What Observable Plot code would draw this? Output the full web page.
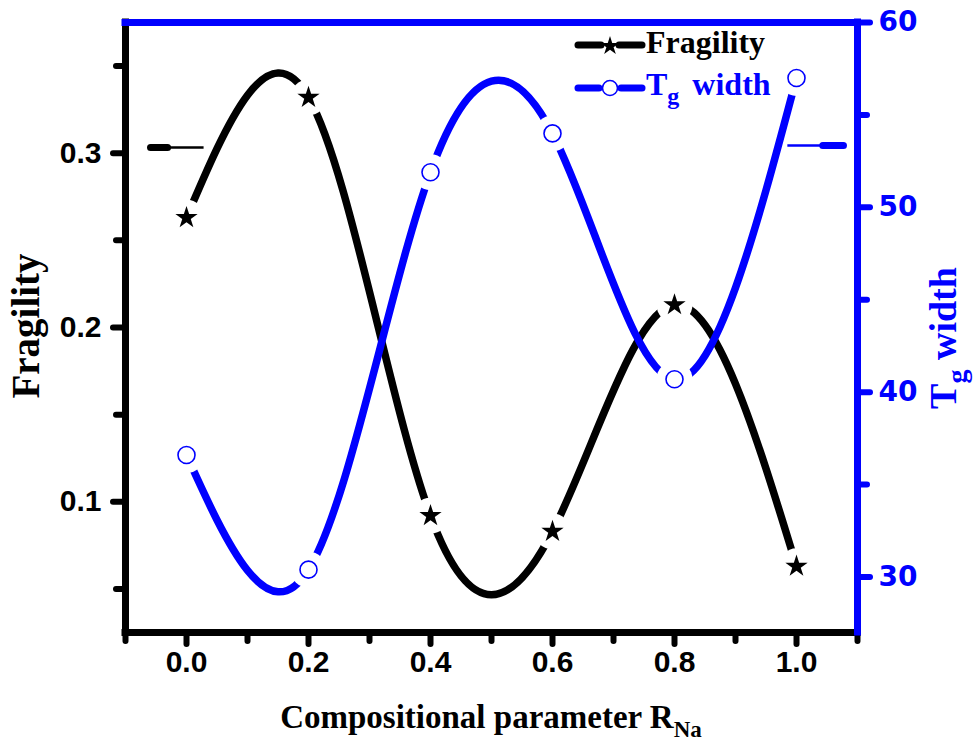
<!DOCTYPE html>
<html><head><meta charset="utf-8">
<script src="https://cdn.jsdelivr.net/npm/d3@7"></script>
<script src="https://cdn.jsdelivr.net/npm/@observablehq/plot@0.6"></script>
<style>
body{margin:0;background:#fff}
svg{display:block}
</style></head><body><div id="chart"></div>
<script>
// ---- data ----
const composition = [0, 0.2, 0.4, 0.6, 0.8, 1.0];
const fragility   = [0.263, 0.332, 0.092, 0.083, 0.213, 0.063];
const tgWidth     = [36.6, 30.4, 51.9, 54.0, 40.7, 57.0];

const xTicks      = [0, 0.2, 0.4, 0.6, 0.8, 1.0];
const xMinorTicks = [-0.1, 0.1, 0.3, 0.5, 0.7, 0.9, 1.1];
const yTicks      = [0.1, 0.2, 0.3];
const yMinorTicks = [0.05, 0.15, 0.25, 0.35];
const tgTicks     = [30, 40, 50, 60];
const tgMinorTicks= [35, 45, 55];

const xDomain = [-0.1, 1.1];
const fragDomain = [0.025, 0.375];
const tgDomain = [27, 60];

// arrows pointing to the axis each curve belongs to (data units)
const fragArrow = {x1: 0.028, x2: -0.059, head: -0.031, y: 0.3033};
const tgArrow   = {x1: 0.985, x2: 1.077, head: 1.043, y: 53.35};

const tgToY = v => fragDomain[0] + (v - tgDomain[0]) / (tgDomain[1] - tgDomain[0]) * (fragDomain[1] - fragDomain[0]);
const yToTg = y => tgDomain[0] + (y - fragDomain[0]) / (fragDomain[1] - fragDomain[0]) * (tgDomain[1] - tgDomain[0]);

const fragData = composition.map((x, i) => ({x, y: fragility[i]}));
const tgData = composition.map((x, i) => ({x, y: tgToY(tgWidth[i]), tg: tgWidth[i]}));

const BLUE = "#0000ff";
const tickFont = {fontSize: 30, fontWeight: "bold", fontFamily: "Liberation Sans, Arial, sans-serif"};

const svg = Plot.plot({
  width: 977, height: 744,
  marginLeft: 125, marginRight: 120, marginTop: 22, marginBottom: 112,
  x: {domain: xDomain, axis: null},
  y: {domain: fragDomain, axis: null},
  marks: [
    // left & bottom frame (black)
    Plot.ruleX([xDomain[0]], {stroke: "black", strokeWidth: 7, strokeLinecap: "square"}),
    Plot.ruleY([fragDomain[0]], {stroke: "black", strokeWidth: 7, strokeLinecap: "square"}),
    // x axis
    Plot.axisX({ticks: xMinorTicks, label: null, tickSize: 9, strokeWidth: 6, strokeLinecap: "round", tickFormat: () => ""}),
    Plot.axisX({ticks: xTicks, label: null, tickSize: 12, tickPadding: 6, strokeWidth: 6, strokeLinecap: "round",
      tickFormat: d3.format(".1f"), ...tickFont}),
    // left y axis
    Plot.axisY({ticks: yMinorTicks, label: null, tickSize: 9, strokeWidth: 6, strokeLinecap: "round", tickFormat: () => ""}),
    Plot.axisY({ticks: yTicks, label: null, tickSize: 12, tickPadding: 12, strokeWidth: 6, strokeLinecap: "round",
      tickFormat: d3.format(".1f"), ...tickFont}),
    // right y axis (Tg width)
    Plot.axisY({anchor: "right", label: null, ticks: tgMinorTicks.map(tgToY), tickSize: 9, strokeWidth: 6,
      strokeLinecap: "round", stroke: BLUE, tickFormat: () => ""}),
    Plot.axisY({anchor: "right", label: null, ticks: tgTicks.map(tgToY), tickSize: 12, tickPadding: 9, strokeWidth: 6,
      strokeLinecap: "round", stroke: BLUE, fill: BLUE, tickFormat: d => Math.round(yToTg(d)),
      fontSize: 28, fontWeight: "bold", fontFamily: "DejaVu Sans, sans-serif"}),
    // curves
    Plot.line(fragData, {x: "x", y: "y", curve: "natural", stroke: "black", strokeWidth: 7.5, strokeLinecap: "round"}),
    Plot.line(tgData, {x: "x", y: "y", curve: "natural", stroke: BLUE, strokeWidth: 7.5, strokeLinecap: "round"}),
    // gaps around symbols
    Plot.dot(fragData, {x: "x", y: "y", r: 18, fill: "white"}),
    Plot.dot(tgData, {x: "x", y: "y", r: 18, fill: "white"}),
    // arrows
    Plot.link([fragArrow], {x1: "x1", x2: "x2", y1: "y", y2: "y", stroke: "black", strokeWidth: 2.5}),
    Plot.link([fragArrow], {x1: "head", x2: "x2", y1: "y", y2: "y", stroke: "black", strokeWidth: 7, strokeLinecap: "round"}),
    Plot.link([tgArrow], {x1: "x1", x2: "x2", y1: d => tgToY(d.y), y2: d => tgToY(d.y), stroke: BLUE, strokeWidth: 2.5}),
    Plot.link([tgArrow], {x1: "head", x2: "x2", y1: d => tgToY(d.y), y2: d => tgToY(d.y), stroke: BLUE, strokeWidth: 7, strokeLinecap: "round"}),
    // top & right frame (blue)
    Plot.ruleY([fragDomain[1]], {stroke: BLUE, strokeWidth: 7, strokeLinecap: "square"}),
    Plot.ruleX([xDomain[1]], {stroke: BLUE, strokeWidth: 7, strokeLinecap: "square"}),
    // symbols
    Plot.dot(fragData, {x: "x", y: "y", symbol: "star", r: 7, fill: "black"}),
    Plot.dot(tgData, {x: "x", y: "y", r: 8.5, fill: "white", stroke: BLUE, strokeWidth: 1.6})
  ]
});

const s = d3.select(svg);
const serif = "Liberation Serif, Times New Roman, serif";

// axis titles
const xt = s.append("text").attr("x", 491).attr("y", 728).attr("text-anchor", "middle")
  .attr("font-family", serif).attr("font-weight", "bold").attr("font-size", 33).attr("fill", "black");
xt.append("tspan").text("Compositional parameter R");
xt.append("tspan").attr("dy", 9).attr("font-size", 23).text("Na");

s.append("text").attr("transform", "translate(39,326) rotate(-90)").attr("text-anchor", "middle")
  .attr("font-family", serif).attr("font-weight", "bold").attr("font-size", 39).attr("fill", "black")
  .text("Fragility");

const rt = s.append("text").attr("transform", "translate(956,338) rotate(-90)").attr("text-anchor", "middle")
  .attr("font-family", serif).attr("font-weight", "bold").attr("font-size", 38).attr("fill", BLUE);
rt.append("tspan").text("T");
rt.append("tspan").attr("dy", 10).attr("font-size", 28).text("g");
rt.append("tspan").attr("dy", -10).text(" width");

// legend
const lg = s.append("g").attr("text-anchor", "start");
lg.append("line").attr("x1", 578).attr("x2", 601).attr("y1", 45).attr("y2", 45).attr("stroke", "black").attr("stroke-width", 7).attr("stroke-linecap", "round");
lg.append("line").attr("x1", 619).attr("x2", 642).attr("y1", 45).attr("y2", 45).attr("stroke", "black").attr("stroke-width", 7).attr("stroke-linecap", "round");
lg.append("path").attr("d", d3.symbol(d3.symbolStar, 110)()).attr("transform", "translate(610,46)").attr("fill", "black");
lg.append("text").attr("x", 646).attr("y", 53).attr("text-anchor", "start").attr("font-family", serif).attr("font-weight", "bold")
  .attr("font-size", 32).attr("fill", "black").text("Fragility");
lg.append("line").attr("x1", 578).attr("x2", 599).attr("y1", 88).attr("y2", 88).attr("stroke", BLUE).attr("stroke-width", 7).attr("stroke-linecap", "round");
lg.append("line").attr("x1", 621).attr("x2", 642).attr("y1", 88).attr("y2", 88).attr("stroke", BLUE).attr("stroke-width", 7).attr("stroke-linecap", "round");
lg.append("circle").attr("cx", 610).attr("cy", 88).attr("r", 7.5).attr("fill", "white").attr("stroke", BLUE).attr("stroke-width", 1.6);
const lt = lg.append("text").attr("x", 646).attr("y", 95).attr("text-anchor", "start").attr("font-family", serif).attr("font-weight", "bold")
  .attr("font-size", 32).attr("fill", BLUE);
lt.append("tspan").text("T");
lt.append("tspan").attr("dy", 9).attr("font-size", 24).text("g");
lt.append("tspan").attr("dy", -9).attr("dx", 5).text(" width");

document.getElementById("chart").appendChild(svg);
</script></body></html>
